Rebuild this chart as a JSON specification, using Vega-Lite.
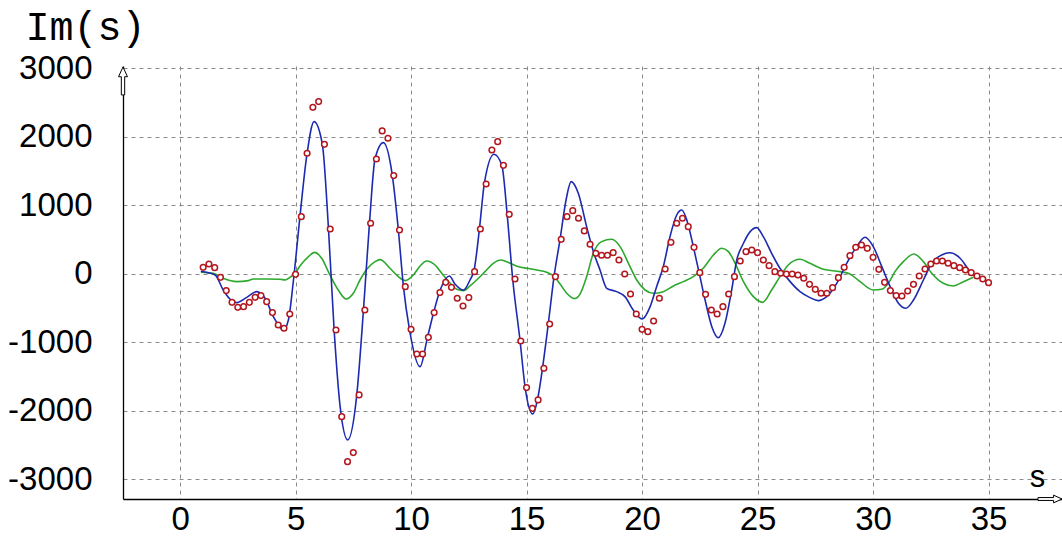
{
  "$schema": "https://vega.github.io/schema/vega-lite/v6.json",
  "width": 939,
  "height": 433,
  "autosize": {"type": "none"},
  "padding": {"left": 123, "top": 66, "right": 0, "bottom": 37},
  "background": "white",
  "config": {"view": {"stroke": null}, "font": "Liberation Sans"},
  "datasets": {
    "curves": [
      {"curve": "green", "s": 0.9, "im": 25}, {"curve": "green", "s": 1.44, "im": 10}, {"curve": "green", "s": 1.87, "im": -63}, {"curve": "green", "s": 2.45, "im": -112}, {"curve": "green", "s": 2.96, "im": -97}, {"curve": "green", "s": 3.17, "im": -73}, {"curve": "green", "s": 3.75, "im": -73}, {"curve": "green", "s": 4.33, "im": -78}, {"curve": "green", "s": 4.55, "im": -88}, {"curve": "green", "s": 4.76, "im": -49}, {"curve": "green", "s": 4.98, "im": 10}, {"curve": "green", "s": 5.19, "im": 117}, {"curve": "green", "s": 5.56, "im": 253}, {"curve": "green", "s": 5.82, "im": 316}, {"curve": "green", "s": 6.13, "im": 229}, {"curve": "green", "s": 6.49, "im": -15}, {"curve": "green", "s": 6.85, "im": -234}, {"curve": "green", "s": 7.19, "im": -365}, {"curve": "green", "s": 7.5, "im": -282}, {"curve": "green", "s": 7.79, "im": -88}, {"curve": "green", "s": 8.08, "im": 68}, {"curve": "green", "s": 8.44, "im": 180}, {"curve": "green", "s": 8.66, "im": 210}, {"curve": "green", "s": 9.09, "im": 83}, {"curve": "green", "s": 9.45, "im": -39}, {"curve": "green", "s": 9.74, "im": -97}, {"curve": "green", "s": 10.1, "im": -15}, {"curve": "green", "s": 10.39, "im": 117}, {"curve": "green", "s": 10.68, "im": 190}, {"curve": "green", "s": 11.04, "im": 131}, {"curve": "green", "s": 11.33, "im": 10}, {"curve": "green", "s": 11.69, "im": -136}, {"curve": "green", "s": 11.98, "im": -224}, {"curve": "green", "s": 12.27, "im": -243}, {"curve": "green", "s": 12.55, "im": -175}, {"curve": "green", "s": 12.84, "im": -88}, {"curve": "green", "s": 13.2, "im": 34}, {"curve": "green", "s": 13.56, "im": 156}, {"curve": "green", "s": 13.88, "im": 204}, {"curve": "green", "s": 14.29, "im": 156}, {"curve": "green", "s": 14.65, "im": 107}, {"curve": "green", "s": 15.01, "im": 83}, {"curve": "green", "s": 15.44, "im": 58}, {"curve": "green", "s": 15.87, "im": 25}, {"curve": "green", "s": 16.16, "im": -29}, {"curve": "green", "s": 16.45, "im": -146}, {"curve": "green", "s": 16.74, "im": -282}, {"curve": "green", "s": 17.08, "im": -360}, {"curve": "green", "s": 17.32, "im": -290}, {"curve": "green", "s": 17.6, "im": -39}, {"curve": "green", "s": 17.89, "im": 302}, {"curve": "green", "s": 18.25, "im": 472}, {"curve": "green", "s": 18.69, "im": 506}, {"curve": "green", "s": 19.05, "im": 399}, {"curve": "green", "s": 19.41, "im": 156}, {"curve": "green", "s": 19.77, "im": -88}, {"curve": "green", "s": 20.13, "im": -234}, {"curve": "green", "s": 20.49, "im": -282}, {"curve": "green", "s": 20.92, "im": -258}, {"curve": "green", "s": 21.36, "im": -175}, {"curve": "green", "s": 21.79, "im": -112}, {"curve": "green", "s": 22.22, "im": -39}, {"curve": "green", "s": 22.65, "im": 83}, {"curve": "green", "s": 23.09, "im": 277}, {"curve": "green", "s": 23.45, "im": 375}, {"curve": "green", "s": 23.74, "im": 326}, {"curve": "green", "s": 24.03, "im": 156}, {"curve": "green", "s": 24.39, "im": -112}, {"curve": "green", "s": 24.82, "im": -331}, {"curve": "green", "s": 25.22, "im": -414}, {"curve": "green", "s": 25.61, "im": -234}, {"curve": "green", "s": 25.97, "im": -39}, {"curve": "green", "s": 26.33, "im": 131}, {"curve": "green", "s": 26.84, "im": 214}, {"curve": "green", "s": 27.27, "im": 156}, {"curve": "green", "s": 27.85, "im": 68}, {"curve": "green", "s": 28.57, "im": 34}, {"curve": "green", "s": 29.0, "im": 0}, {"curve": "green", "s": 29.44, "im": -112}, {"curve": "green", "s": 30.01, "im": -234}, {"curve": "green", "s": 30.38, "im": -224}, {"curve": "green", "s": 30.66, "im": -136}, {"curve": "green", "s": 30.95, "im": 34}, {"curve": "green", "s": 31.31, "im": 180}, {"curve": "green", "s": 31.77, "im": 292}, {"curve": "green", "s": 32.18, "im": 180}, {"curve": "green", "s": 32.54, "im": 10}, {"curve": "green", "s": 33.04, "im": -136}, {"curve": "green", "s": 33.48, "im": -175}, {"curve": "green", "s": 33.91, "im": -112}, {"curve": "green", "s": 34.34, "im": -50},
      {"curve": "blue", "s": 0.9, "im": 40}, {"curve": "blue", "s": 1.2, "im": 20}, {"curve": "blue", "s": 1.52, "im": -15}, {"curve": "blue", "s": 1.87, "im": -234}, {"curve": "blue", "s": 2.2, "im": -380}, {"curve": "blue", "s": 2.45, "im": -419}, {"curve": "blue", "s": 2.89, "im": -341}, {"curve": "blue", "s": 3.32, "im": -258}, {"curve": "blue", "s": 3.68, "im": -355}, {"curve": "blue", "s": 4.04, "im": -623}, {"curve": "blue", "s": 4.47, "im": -818}, {"curve": "blue", "s": 4.69, "im": -672}, {"curve": "blue", "s": 4.91, "im": -88}, {"curve": "blue", "s": 5.19, "im": 837}, {"curve": "blue", "s": 5.48, "im": 1712}, {"curve": "blue", "s": 5.8, "im": 2224}, {"curve": "blue", "s": 6.16, "im": 1893}, {"curve": "blue", "s": 6.42, "im": 691}, {"curve": "blue", "s": 6.67, "im": -818}, {"curve": "blue", "s": 6.93, "im": -1937}, {"curve": "blue", "s": 7.26, "im": -2423}, {"curve": "blue", "s": 7.65, "im": -1766}, {"curve": "blue", "s": 7.94, "im": -526}, {"curve": "blue", "s": 8.2, "im": 740}, {"curve": "blue", "s": 8.44, "im": 1679}, {"curve": "blue", "s": 8.8, "im": 1917}, {"curve": "blue", "s": 9.19, "im": 1436}, {"curve": "blue", "s": 9.45, "im": 642}, {"curve": "blue", "s": 9.67, "im": -185}, {"curve": "blue", "s": 9.93, "im": -808}, {"curve": "blue", "s": 10.39, "im": -1353}, {"curve": "blue", "s": 10.71, "im": -925}, {"curve": "blue", "s": 10.97, "im": -574}, {"curve": "blue", "s": 11.26, "im": -234}, {"curve": "blue", "s": 11.66, "im": -29}, {"curve": "blue", "s": 11.9, "im": -146}, {"curve": "blue", "s": 12.27, "im": -234}, {"curve": "blue", "s": 12.55, "im": -88}, {"curve": "blue", "s": 12.73, "im": 58}, {"curve": "blue", "s": 12.96, "im": 657}, {"curve": "blue", "s": 13.17, "im": 1314}, {"curve": "blue", "s": 13.59, "im": 1747}, {"curve": "blue", "s": 13.93, "im": 1586}, {"curve": "blue", "s": 14.16, "im": 871}, {"curve": "blue", "s": 14.4, "im": -73}, {"curve": "blue", "s": 14.72, "im": -978}, {"curve": "blue", "s": 14.94, "im": -1659}, {"curve": "blue", "s": 15.27, "im": -2044}, {"curve": "blue", "s": 15.47, "im": -1839}, {"curve": "blue", "s": 15.69, "im": -1377}, {"curve": "blue", "s": 15.94, "im": -730}, {"curve": "blue", "s": 16.19, "im": -39}, {"curve": "blue", "s": 16.45, "im": 506}, {"curve": "blue", "s": 16.71, "im": 1080}, {"curve": "blue", "s": 16.93, "im": 1348}, {"curve": "blue", "s": 17.24, "im": 1178}, {"curve": "blue", "s": 17.6, "im": 691}, {"curve": "blue", "s": 17.89, "im": 330}, {"curve": "blue", "s": 18.18, "im": 58}, {"curve": "blue", "s": 18.47, "im": -209}, {"curve": "blue", "s": 18.9, "im": -258}, {"curve": "blue", "s": 19.26, "im": -331}, {"curve": "blue", "s": 19.62, "im": -526}, {"curve": "blue", "s": 20.01, "im": -657}, {"curve": "blue", "s": 20.35, "im": -477}, {"curve": "blue", "s": 20.63, "im": -185}, {"curve": "blue", "s": 20.92, "im": 107}, {"curve": "blue", "s": 21.21, "im": 545}, {"curve": "blue", "s": 21.5, "im": 861}, {"curve": "blue", "s": 21.72, "im": 934}, {"curve": "blue", "s": 21.96, "im": 764}, {"curve": "blue", "s": 22.22, "im": 399}, {"curve": "blue", "s": 22.47, "im": 19}, {"curve": "blue", "s": 22.73, "im": -380}, {"curve": "blue", "s": 23.02, "im": -769}, {"curve": "blue", "s": 23.3, "im": -930}, {"curve": "blue", "s": 23.59, "im": -720}, {"curve": "blue", "s": 23.88, "im": -234}, {"curve": "blue", "s": 24.1, "im": 204}, {"curve": "blue", "s": 24.39, "im": 448}, {"curve": "blue", "s": 24.68, "im": 618}, {"curve": "blue", "s": 24.96, "im": 676}, {"curve": "blue", "s": 25.25, "im": 545}, {"curve": "blue", "s": 25.61, "im": 302}, {"curve": "blue", "s": 25.97, "im": 83}, {"curve": "blue", "s": 26.41, "im": -112}, {"curve": "blue", "s": 26.84, "im": -258}, {"curve": "blue", "s": 27.27, "im": -345}, {"curve": "blue", "s": 27.63, "im": -389}, {"curve": "blue", "s": 27.99, "im": -331}, {"curve": "blue", "s": 28.43, "im": -136}, {"curve": "blue", "s": 28.86, "im": 156}, {"curve": "blue", "s": 29.29, "im": 399}, {"curve": "blue", "s": 29.65, "im": 535}, {"curve": "blue", "s": 30.01, "im": 399}, {"curve": "blue", "s": 30.38, "im": 107}, {"curve": "blue", "s": 30.74, "im": -185}, {"curve": "blue", "s": 31.1, "im": -428}, {"curve": "blue", "s": 31.42, "im": -501}, {"curve": "blue", "s": 31.75, "im": -380}, {"curve": "blue", "s": 32.18, "im": -88}, {"curve": "blue", "s": 32.54, "im": 156}, {"curve": "blue", "s": 32.97, "im": 277}, {"curve": "blue", "s": 33.33, "im": 310}, {"curve": "blue", "s": 33.77, "im": 230}, {"curve": "blue", "s": 34.2, "im": 34}, {"curve": "blue", "s": 34.49, "im": -63}
    ],
    "points": [
      {"s": 1.0, "im": 97}, {"s": 1.25, "im": 146}, {"s": 1.5, "im": 92}, {"s": 1.75, "im": -49}, {"s": 2.0, "im": -243}, {"s": 2.25, "im": -414}, {"s": 2.5, "im": -487}, {"s": 2.75, "im": -477}, {"s": 3.0, "im": -414}, {"s": 3.25, "im": -341}, {"s": 3.5, "im": -316}, {"s": 3.75, "im": -404}, {"s": 4.0, "im": -564}, {"s": 4.25, "im": -745}, {"s": 4.5, "im": -793}, {"s": 4.75, "im": -584}, {"s": 5.0, "im": -5}, {"s": 5.25, "im": 837}, {"s": 5.5, "im": 1762}, {"s": 5.75, "im": 2433}, {"s": 6.0, "im": 2516}, {"s": 6.25, "im": 1893}, {"s": 6.5, "im": 657}, {"s": 6.75, "im": -818}, {"s": 7.0, "im": -2083}, {"s": 7.25, "im": -2740}, {"s": 7.5, "im": -2608}, {"s": 7.75, "im": -1766}, {"s": 8.0, "im": -526}, {"s": 8.25, "im": 740}, {"s": 8.5, "im": 1679}, {"s": 8.75, "im": 2088}, {"s": 9.0, "im": 1981}, {"s": 9.25, "im": 1436}, {"s": 9.5, "im": 642}, {"s": 9.75, "im": -185}, {"s": 10.0, "im": -808}, {"s": 10.25, "im": -1168}, {"s": 10.5, "im": -1168}, {"s": 10.75, "im": -925}, {"s": 11.0, "im": -564}, {"s": 11.25, "im": -272}, {"s": 11.5, "im": -122}, {"s": 11.75, "im": -195}, {"s": 12.0, "im": -355}, {"s": 12.25, "im": -467}, {"s": 12.5, "im": -345}, {"s": 12.75, "im": 34}, {"s": 13.0, "im": 657}, {"s": 13.25, "im": 1314}, {"s": 13.5, "im": 1810}, {"s": 13.75, "im": 1932}, {"s": 14.0, "im": 1586}, {"s": 14.25, "im": 871}, {"s": 14.5, "im": -73}, {"s": 14.75, "im": -978}, {"s": 15.0, "im": -1659}, {"s": 15.25, "im": -1961}, {"s": 15.5, "im": -1839}, {"s": 15.75, "im": -1377}, {"s": 16.0, "im": -730}, {"s": 16.25, "im": -39}, {"s": 16.5, "im": 506}, {"s": 16.75, "im": 837}, {"s": 17.0, "im": 924}, {"s": 17.25, "im": 813}, {"s": 17.5, "im": 628}, {"s": 17.75, "im": 434}, {"s": 18.0, "im": 302}, {"s": 18.25, "im": 273}, {"s": 18.5, "im": 273}, {"s": 18.75, "im": 311}, {"s": 19.0, "im": 204}, {"s": 19.25, "im": 0}, {"s": 19.5, "im": -292}, {"s": 19.75, "im": -584}, {"s": 20.0, "im": -808}, {"s": 20.25, "im": -842}, {"s": 20.5, "im": -686}, {"s": 20.75, "im": -355}, {"s": 21.0, "im": 73}, {"s": 21.25, "im": 462}, {"s": 21.5, "im": 740}, {"s": 21.75, "im": 813}, {"s": 22.0, "im": 691}, {"s": 22.25, "im": 389}, {"s": 22.5, "im": 19}, {"s": 22.75, "im": -297}, {"s": 23.0, "im": -526}, {"s": 23.25, "im": -584}, {"s": 23.5, "im": -477}, {"s": 23.75, "im": -292}, {"s": 24.0, "im": -39}, {"s": 24.25, "im": 190}, {"s": 24.5, "im": 326}, {"s": 24.75, "im": 350}, {"s": 25.0, "im": 311}, {"s": 25.25, "im": 204}, {"s": 25.5, "im": 121}, {"s": 25.75, "im": 34}, {"s": 26.0, "im": 10}, {"s": 26.25, "im": 0}, {"s": 26.5, "im": 0}, {"s": 26.75, "im": -15}, {"s": 27.0, "im": -63}, {"s": 27.25, "im": -151}, {"s": 27.5, "im": -224}, {"s": 27.75, "im": -282}, {"s": 28.0, "im": -282}, {"s": 28.25, "im": -200}, {"s": 28.5, "im": -54}, {"s": 28.75, "im": 97}, {"s": 29.0, "im": 267}, {"s": 29.25, "im": 389}, {"s": 29.5, "im": 423}, {"s": 29.75, "im": 374}, {"s": 30.0, "im": 243}, {"s": 30.25, "im": 68}, {"s": 30.5, "im": -122}, {"s": 30.75, "im": -243}, {"s": 31.0, "im": -316}, {"s": 31.25, "im": -321}, {"s": 31.5, "im": -248}, {"s": 31.75, "im": -151}, {"s": 32.0, "im": -29}, {"s": 32.25, "im": 73}, {"s": 32.5, "im": 146}, {"s": 32.75, "im": 190}, {"s": 33.0, "im": 190}, {"s": 33.25, "im": 156}, {"s": 33.5, "im": 121}, {"s": 33.75, "im": 92}, {"s": 34.0, "im": 58}, {"s": 34.25, "im": 19}, {"s": 34.5, "im": -29}, {"s": 34.75, "im": -73}, {"s": 35.0, "im": -127}
    ]
  },
  "layer": [
    {
      "data": {"name": "curves"},
      "mark": {"type": "line", "interpolate": "monotone", "strokeWidth": 1.6},
      "encoding": {
        "x": {
          "field": "s", "type": "quantitative",
          "scale": {"domain": [-2.47, 38.18], "nice": false, "zero": false},
          "axis": {
            "values": [0, 5, 10, 15, 20, 25, 30, 35], "labelExpr": "'' + datum.value",
            "grid": true, "gridColor": "#8a8a8a", "gridDash": [4, 4], "gridWidth": 1,
            "domainColor": "black", "domainWidth": 1.3,
            "ticks": false, "tickSize": 0,
            "labelFont": "Liberation Sans", "labelFontSize": 33, "labelColor": "black",
            "labelBaseline": "bottom", "labelPadding": 37,
            "title": "s", "titleFont": "Liberation Sans", "titleFontSize": 31, "titleFontWeight": "normal", "titleColor": "black",
            "titleX": 914, "titleY": -13, "titleBaseline": "alphabetic", "titleAlign": "center"
          }
        },
        "y": {
          "field": "im", "type": "quantitative",
          "scale": {"domain": [-3285, 3036], "nice": false, "zero": false},
          "axis": {
            "values": [-3000, -2000, -1000, 0, 1000, 2000, 3000], "labelExpr": "'' + datum.value",
            "grid": true, "gridColor": "#8a8a8a", "gridDash": [4, 4], "gridWidth": 1,
            "domainColor": "black", "domainWidth": 1.3,
            "ticks": false, "tickSize": 0,
            "labelFont": "Liberation Sans", "labelFontSize": 33, "labelColor": "black", "labelPadding": 31,
            "title": "Im(s)", "titleFont": "Liberation Mono", "titleFontSize": 40, "titleFontWeight": "normal", "titleColor": "black",
            "titleAngle": 0, "titleX": -98, "titleY": -27, "titleAlign": "left", "titleBaseline": "alphabetic"
          }
        },
        "color": {
          "field": "curve", "type": "nominal",
          "scale": {"domain": ["green", "blue"], "range": ["#2ca82c", "#1c2ab0"]},
          "legend": null
        }
      }
    },
    {
      "data": {"name": "points"},
      "mark": {"type": "point", "shape": "circle", "filled": false, "fill": "white", "fillOpacity": 1, "stroke": "#b3161c", "strokeWidth": 1.5, "size": 32, "opacity": 1},
      "encoding": {
        "x": {"field": "s", "type": "quantitative"},
        "y": {"field": "im", "type": "quantitative"}
      }
    },
    {
      "data": {"values": [{"axis": "y"}]},
      "mark": {"type": "point", "shape": "M0,-1L0.32,-0.3L0.12,-0.3L0.12,1L-0.12,1L-0.12,-0.3L-0.32,-0.3Z", "filled": false, "fill": "white", "fillOpacity": 1, "stroke": "black", "strokeWidth": 1, "size": 784, "opacity": 1},
      "encoding": {"x": {"datum": -2.47}, "y": {"datum": 2818}}
    },
    {
      "data": {"values": [{"axis": "x"}]},
      "mark": {"type": "point", "shape": "M1,0L0.3,-0.32L0.3,-0.12L-1,-0.12L-1,0.12L0.3,0.12L0.3,0.32Z", "filled": false, "fill": "white", "fillOpacity": 1, "stroke": "black", "strokeWidth": 1, "size": 576, "opacity": 1},
      "encoding": {"x": {"datum": 37.66}, "y": {"datum": -3285}}
    }
  ]
}
